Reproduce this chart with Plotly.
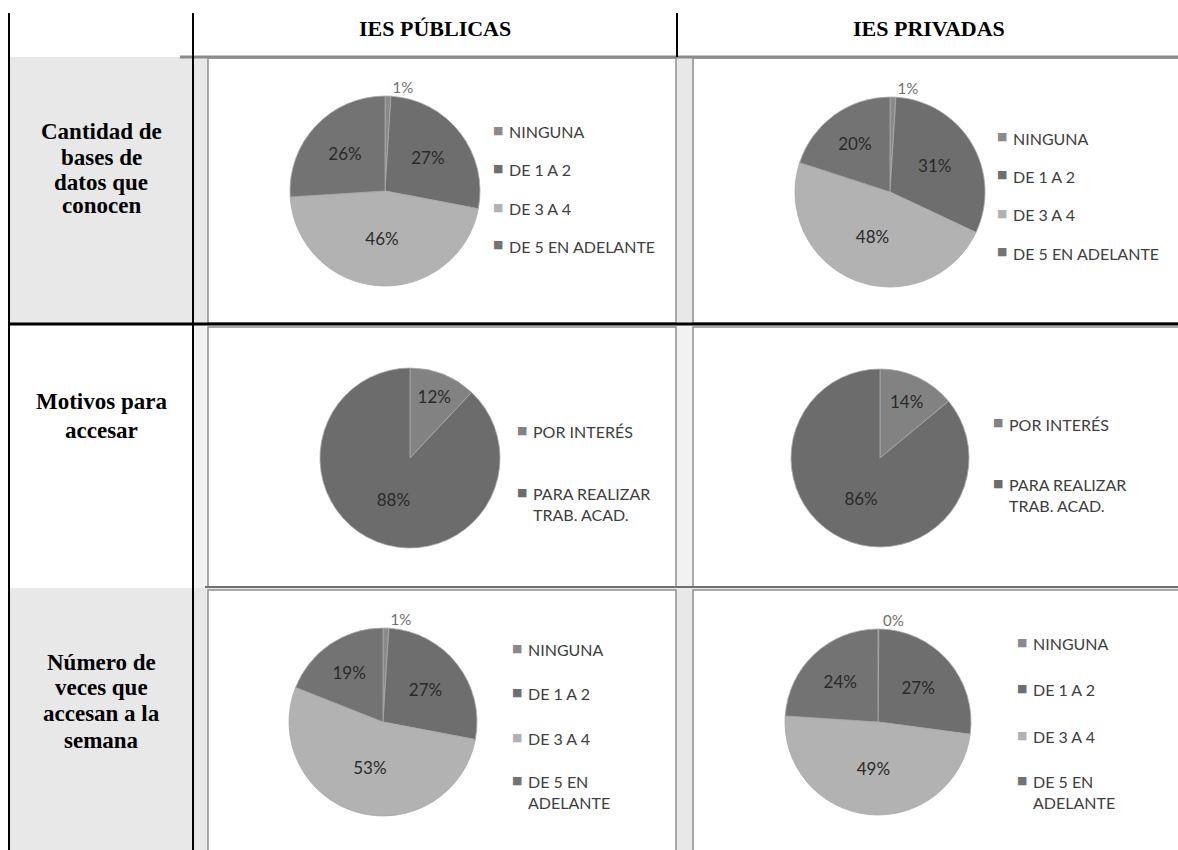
import plotly.graph_objects as go

W, H = 1178, 850

# ---- data -------------------------------------------------------------
col_titles = ["IES PÚBLICAS", "IES PRIVADAS"]
row_titles = [
    ["Cantidad de", "bases de", "datos que", "conocen"],
    ["Motivos para", "accesar"],
    ["Número de", "veces que", "accesan a la", "semana"],
]

cats_cantidad = ["NINGUNA", "DE 1 A 2", "DE 3 A 4", "DE 5 EN ADELANTE"]
cantidad_publicas = [1, 27, 46, 26]
cantidad_privadas = [1, 31, 48, 20]

cats_motivos = ["POR INTERÉS", "PARA REALIZAR<br>TRAB. ACAD."]
motivos_publicas = [12, 88]
motivos_privadas = [14, 86]

cats_veces = ["NINGUNA", "DE 1 A 2", "DE 3 A 4", "DE 5 EN<br>ADELANTE"]
veces_publicas = [1, 27, 53, 19]
veces_privadas = [0, 27, 49, 24]

# ---- styling ----------------------------------------------------------
colors4 = ["#8a8a8a", "#6e6e6e", "#b2b2b2", "#737373"]
colors2 = ["#828282", "#6c6c6c"]
TXT = "#404040"
GRID_BG = "#e8e8e8"
BOX = "#8f8f8f"
SERIF = "Liberation Serif"
SANS = "Lato"


def fx(px):
    return px / W


def fy(py):
    return 1 - py / H


# each panel: values, categories, colours, pie centre/radius, legend spec
panels = [
    dict(vals=cantidad_publicas, cats=cats_cantidad, cols=colors4,
         cx=385, cy=191, r=95, lx=498, ly=[130, 168, 207, 245]),
    dict(vals=cantidad_privadas, cats=cats_cantidad, cols=colors4,
         cx=890, cy=192, r=95, lx=1002, ly=[137, 175, 213, 252]),
    dict(vals=motivos_publicas, cats=cats_motivos, cols=colors2,
         cx=410, cy=458, r=90, lx=522, ly=[430, 492]),
    dict(vals=motivos_privadas, cats=cats_motivos, cols=colors2,
         cx=880, cy=458, r=89, lx=998, ly=[423, 483]),
    dict(vals=veces_publicas, cats=cats_veces, cols=colors4,
         cx=383, cy=722, r=94, lx=517, ly=[648, 692, 737, 780]),
    dict(vals=veces_privadas, cats=cats_veces, cols=colors4,
         cx=878, cy=722, r=93, lx=1022, ly=[642, 688, 735, 780]),
]

fig = go.Figure()
annotations = []

for p in panels:
    cx, cy, r = p["cx"], p["cy"], p["r"]
    positions = ["outside" if v <= 1 else "inside" for v in p["vals"]]
    fig.add_trace(go.Pie(
        labels=[c.replace("<br>", " ") for c in p["cats"]],
        values=[max(v, 0.15) for v in p["vals"]],
        customdata=p["vals"],
        texttemplate="%{customdata}%",
        textposition=positions,
        insidetextorientation="horizontal",
        insidetextfont=dict(family=SANS, size=17, color="#2a2a2a"),
        outsidetextfont=dict(family=SANS, size=15, color="#707070"),
        sort=False,
        direction="clockwise",
        rotation=0,
        marker=dict(colors=p["cols"], line=dict(color="#a8a8a8", width=0.8)),
        domain=dict(x=[fx(cx - r), fx(cx + r)], y=[fy(cy + r), fy(cy - r)]),
        showlegend=False,
        hoverinfo="label+percent",
    ))
    # legend entries
    for cat, col, y in zip(p["cats"], p["cols"], p["ly"]):
        annotations.append(dict(
            x=fx(p["lx"]), y=fy(y), xref="paper", yref="paper",
            text="■", showarrow=False, xanchor="center", yanchor="middle",
            font=dict(family="DejaVu Sans", size=11, color=col)))
        annotations.append(dict(
            x=fx(p["lx"] + 9), y=fy(y - 10), xref="paper", yref="paper",
            text=cat, showarrow=False, xanchor="left", yanchor="top",
            align="left",
            font=dict(family=SANS, size=16, color=TXT)))

# column headings
for title, x in zip(col_titles, [435, 929]):
    annotations.append(dict(
        x=fx(x), y=fy(28), xref="paper", yref="paper", text=f"<b>{title}</b>",
        showarrow=False, xanchor="center", yanchor="middle",
        font=dict(family=SERIF, size=22, color="black")))

# row headings, one annotation per line
row_line_y = [[132, 157, 182, 206], [402, 430], [662, 687, 713, 740]]
for lines, ys in zip(row_titles, row_line_y):
    for line, y in zip(lines, ys):
        annotations.append(dict(
            x=fx(101), y=fy(y), xref="paper", yref="paper",
            text=f"<b>{line}</b>", showarrow=False,
            xanchor="center", yanchor="middle",
            font=dict(family=SERIF, size=23, color="black")))

shapes = []


def rect(x0, y0, x1, y1, fill=None, line=None, width=0, layer="below"):
    shapes.append(dict(
        type="rect", xref="paper", yref="paper",
        x0=fx(x0), x1=fx(x1), y0=fy(y1), y1=fy(y0),
        fillcolor=fill or "rgba(0,0,0,0)",
        line=dict(color=line or "rgba(0,0,0,0)", width=width), layer=layer))


def hline(x0, x1, y, color, width):
    shapes.append(dict(type="line", xref="paper", yref="paper",
                       x0=fx(x0), x1=fx(x1), y0=fy(y), y1=fy(y),
                       line=dict(color=color, width=width), layer="above"))


def vline(x, y0, y1, color, width):
    shapes.append(dict(type="line", xref="paper", yref="paper",
                       x0=fx(x), x1=fx(x), y0=fy(y0), y1=fy(y1),
                       line=dict(color=color, width=width), layer="above"))


# grey backgrounds of the table
rect(193, 57, W, 324, fill=GRID_BG)
rect(193, 325, W, 588, fill="#f2f2f2")
rect(193, 588, W, H, fill=GRID_BG)
rect(9, 57, 193, 324, fill=GRID_BG)
rect(9, 588, 193, H, fill=GRID_BG)

# chart boxes
for (y0, y1) in [(58, 323), (327, 587), (590, H + 5)]:
    rect(208, y0, 676, y1, fill="white", line=BOX, width=1.5)
    rect(693, y0, W + 5, y1, fill="white", line=BOX, width=1.5)

# table rules
hline(180, W, 57, "#8a8a8a", 3)
hline(8, W, 324, "black", 3)
hline(205, W, 587, "#707070", 2)
vline(9, 13, H, "black", 2)
vline(193, 13, H, "black", 2)
vline(677, 13, 57, "black", 2)

fig.update_layout(
    width=W, height=H,
    margin=dict(l=0, r=0, t=0, b=0),
    paper_bgcolor="white",
    plot_bgcolor="white",
    shapes=shapes,
    annotations=annotations,
)

fig.write_html("out.html")
